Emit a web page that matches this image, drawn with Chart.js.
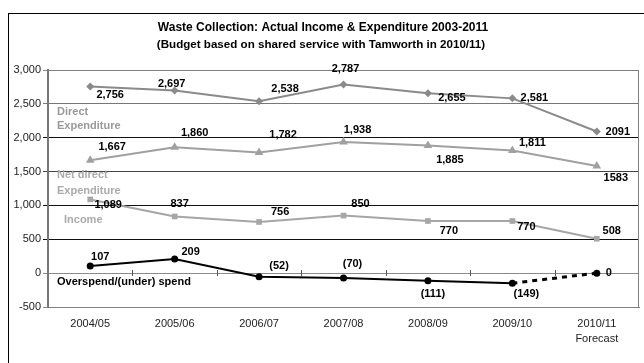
<!DOCTYPE html>
<html>
<head>
<meta charset="utf-8">
<script src="https://cdn.jsdelivr.net/npm/chart.js@4/dist/chart.umd.min.js"></script>
<style>
  html, body { margin: 0; padding: 0; background: #fff; }
  #wrap { width: 644px; height: 363px; position: relative; }
</style>
</head>
<body>
<div id="wrap"><canvas id="c" width="644" height="363"></canvas></div>
<script>
// ---- data ----
const categories = ['2004/05', '2005/06', '2006/07', '2007/08', '2008/09', '2009/10', ['2010/11', 'Forecast']];
const directExpenditure = [2756, 2697, 2538, 2787, 2655, 2581, 2091];
const netDirectExpenditure = [1667, 1860, 1782, 1938, 1885, 1811, 1583];
const income = [1089, 837, 756, 850, 770, 770, 508];
const overspend = [107, 209, -52, -70, -111, -149, 0];
const yTicks = [-500, 0, 500, 1000, 1500, 2000, 2500, 3000];
const titleText = 'Waste Collection: Actual Income & Expenditure 2003-2011';
const subtitleText = '(Budget based on shared service with Tamworth in 2010/11)';

// ---- label placement (pixel offsets from each point) ----
const labelOffsets = [
  [[20, 8], [-3, -7], [26, -12], [2, -15], [24, 5], [22, 0], [21, 0]],
  [[22, -13], [20, -14], [24, -18], [14, -12], [22, 14], [20, -8], [19, 12]],
  [[18, 6], [5, -12], [21, -10], [17, -12], [21, 10], [14, 6], [15, -8]],
  [[10, -9], [16, -7], [20, -11], [9, -14], [5, 13], [14, 11], [12, 0]]
];

const FONT = '"Liberation Sans", Arial, sans-serif';

function fmt(v, i, last) {
  if (v < 0) return '(' + (-v) + ')';
  if (i === last) return String(v);
  return v.toLocaleString('en-US');
}

const decorPlugin = {
  id: 'decor',
  beforeDraw(chart) {
    const ctx = chart.ctx;
    ctx.save();
    ctx.fillStyle = '#fff';
    ctx.fillRect(0, 0, chart.width, chart.height);
    ctx.restore();
  },
  beforeDatasetsDraw(chart) {
    const ctx = chart.ctx;
    const a = chart.chartArea;
    const y = chart.scales.y;
    ctx.save();
    // plot border (top, right)
    ctx.strokeStyle = '#808080';
    ctx.lineWidth = 1;
    ctx.beginPath();
    ctx.moveTo(a.left, a.top + 0.5);
    ctx.lineTo(a.right - 0.5, a.top + 0.5);
    ctx.lineTo(a.right - 0.5, a.bottom);
    ctx.stroke();
    // tick marks on zero line between categories
    const y0 = Math.round(y.getPixelForValue(0));
    ctx.strokeStyle = '#555';
    ctx.beginPath();
    const n = categories.length;
    const step = (a.right - a.left) / n;
    for (let k = 1; k < n; k++) {
      const xx = Math.round(a.left + k * step) + 0.5;
      ctx.moveTo(xx, y0 - 3);
      ctx.lineTo(xx, y0 + 3);
    }
    ctx.stroke();
    ctx.restore();
  },
  afterDatasetsDraw(chart) {
    const ctx = chart.ctx;
    const a = chart.chartArea;
    ctx.save();
    // outer border
    ctx.strokeStyle = '#000';
    ctx.lineWidth = 1;
    ctx.strokeRect(8.5, 13.5, 800, 500);
    // titles
    ctx.fillStyle = '#000';
    ctx.textAlign = 'center';
    ctx.textBaseline = 'middle';
    ctx.font = 'bold 12px ' + FONT;
    ctx.fillText(titleText, 323, 28);
    ctx.font = 'bold 11.6px ' + FONT;
    ctx.fillText(subtitleText, 321, 45);

    // series names
    ctx.textAlign = 'left';
    ctx.font = 'bold 11px ' + FONT;
    ctx.fillStyle = '#999999';
    ctx.fillText('Direct', a.left + 9, 112);
    ctx.fillText('Expenditure', a.left + 9, 126);
    ctx.fillStyle = '#aaaaaa';
    ctx.fillText('Net direct', a.left + 9, 175);
    ctx.fillText('Expenditure', a.left + 9, 191);
    ctx.fillText('Income', a.left + 16, 220);
    ctx.fillStyle = '#000';
    ctx.fillText('Overspend/(under) spend', a.left + 9, 282);

    // data labels
    ctx.textAlign = 'center';
    ctx.fillStyle = '#000';
    ctx.font = 'bold 11px ' + FONT;
    chart.data.datasets.forEach((ds, di) => {
      const meta = chart.getDatasetMeta(di);
      meta.data.forEach((pt, i) => {
        const off = labelOffsets[di][i];
        ctx.fillText(fmt(ds.data[i], i, ds.data.length - 1), pt.x + off[0], pt.y + off[1]);
      });
    });
    ctx.restore();
  }
};

new Chart(document.getElementById('c'), {
  type: 'line',
  data: {
    labels: categories,
    datasets: [
      {
        label: 'Direct Expenditure',
        data: directExpenditure,
        borderColor: '#8a8a8a',
        backgroundColor: '#8a8a8a',
        borderWidth: 2,
        pointStyle: 'rectRot',
        pointRadius: 4,
        pointBorderWidth: 0,
        tension: 0
      },
      {
        label: 'Net direct Expenditure',
        data: netDirectExpenditure,
        borderColor: '#a0a0a0',
        backgroundColor: '#a0a0a0',
        borderWidth: 2,
        pointStyle: 'triangle',
        pointRadius: 5,
        pointBorderWidth: 0,
        tension: 0
      },
      {
        label: 'Income',
        data: income,
        borderColor: '#a6a6a6',
        backgroundColor: '#a6a6a6',
        borderWidth: 2,
        pointStyle: 'rect',
        pointRadius: 4,
        pointBorderWidth: 0,
        tension: 0
      },
      {
        label: 'Overspend/(under) spend',
        data: overspend,
        borderColor: '#000',
        backgroundColor: '#000',
        borderWidth: 2,
        pointStyle: 'circle',
        pointRadius: 3.5,
        pointBorderWidth: 0,
        tension: 0,
        segment: {
          borderDash: c => c.p0DataIndex === 5 ? [5, 5] : undefined,
          borderWidth: c => c.p0DataIndex === 5 ? 3 : 2
        }
      }
    ]
  },
  options: {
    responsive: false,
    animation: false,
    devicePixelRatio: 1,
    layout: { padding: { left: 0, right: 5, top: 70, bottom: 0 } },
    plugins: {
      legend: { display: false },
      title: { display: false },
      tooltip: { enabled: false }
    },
    scales: {
      x: {
        offset: true,
        grid: { display: false, drawTicks: false },
        border: { display: true, color: '#808080', width: 1 },
        ticks: {
          color: '#222',
          font: { family: FONT, size: 11, lineHeight: 1.35 },
          padding: 10,
          maxRotation: 0,
          autoSkip: false
        },
        afterFit(s) { s.height = 56; }
      },
      y: {
        min: -500,
        max: 3000,
        afterBuildTicks(s) { s.ticks = yTicks.map(v => ({ value: v })); },
        grid: {
          drawTicks: true,
          tickLength: 5,
          lineWidth: 1,
          color: c => {
            const v = c.tick && c.tick.value;
            if (v === 0 || v === 3000 || v === -500) return '#8a8a8a';
            if (v === 2500) return '#777';
            if (v === 1500) return '#444';
            return '#111';
          }
        },
        border: { display: true, color: '#777', width: 2 },
        ticks: {
          color: '#222',
          font: { family: FONT, size: 11 },
          padding: 2,
          callback: v => v.toLocaleString('en-US')
        },
        afterFit(s) { s.width = 48; }
      }
    }
  },
  plugins: [decorPlugin]
});
</script>
</body>
</html>
